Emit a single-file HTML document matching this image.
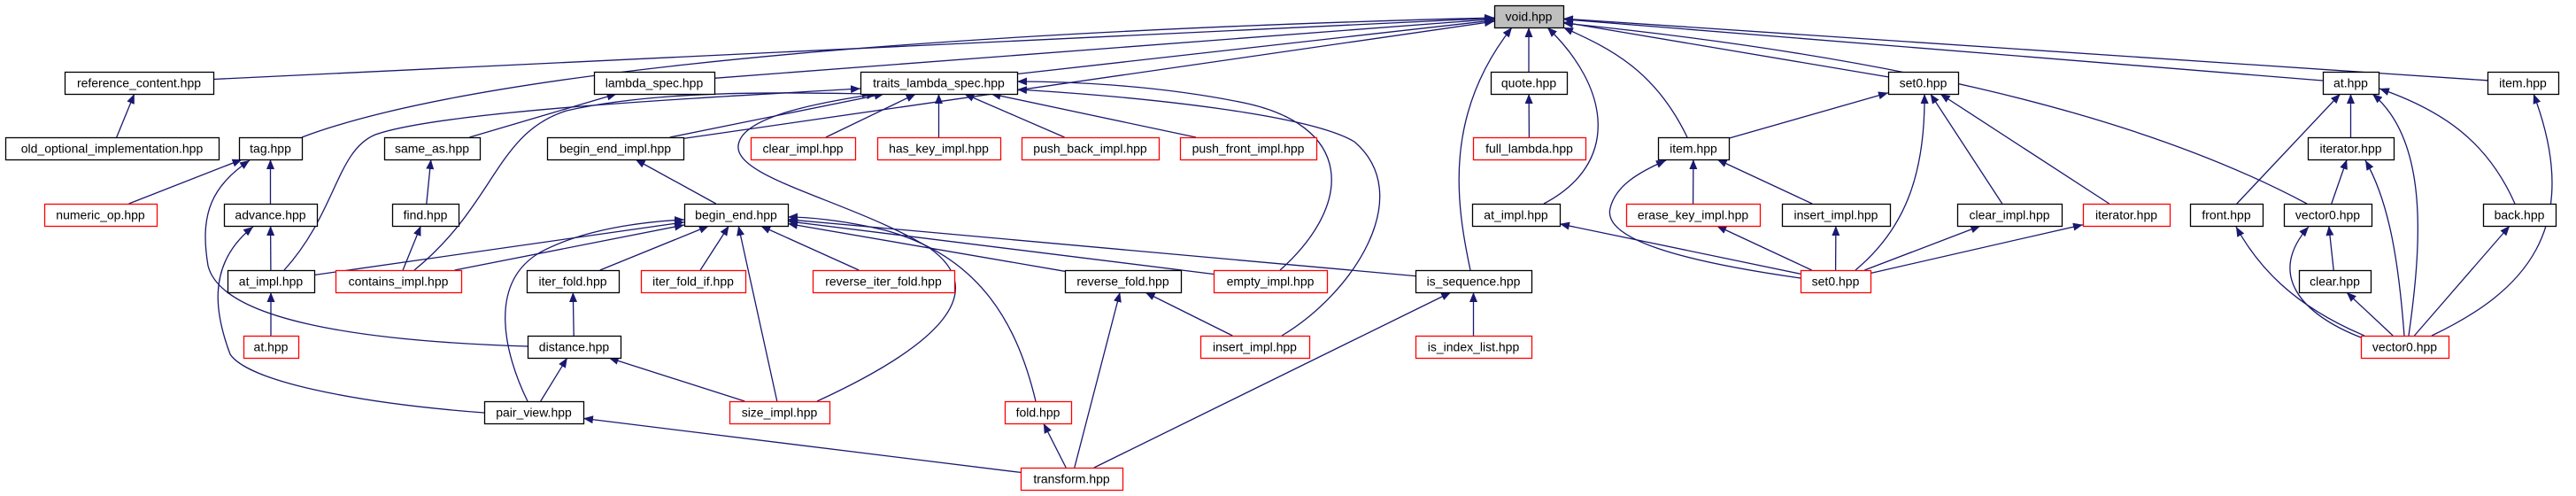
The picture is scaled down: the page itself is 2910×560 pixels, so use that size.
<!DOCTYPE html>
<html><head><meta charset="utf-8">
<style>
html,body{margin:0;padding:0;background:#fff;}
svg{display:block;}
text{font-family:"Liberation Sans",sans-serif;font-size:14px;fill:#000;}
</style></head>
<body>
<svg id="g" xmlns="http://www.w3.org/2000/svg" width="2910" height="560" viewBox="0 0 2910 560">
<defs>
<marker id="a" markerUnits="userSpaceOnUse" markerWidth="12" markerHeight="9" refX="11" refY="4.5" orient="auto">
<path d="M0,0 L11,4.5 L0,9 z" fill="#191970"/>
</marker>
</defs>
<g id="edges" fill="none" stroke="#191970" stroke-width="1.3"></g>
<g id="nodes"></g>
</svg>
<script>
var R=[6,81,155,230,305,379,453,528],H=25;
var N={
void:[1688,1766,0,'g','void.hpp'],
reference_content:[73,241,1,'b','reference_content.hpp'],
lambda_spec:[671,807,1,'b','lambda_spec.hpp'],
traits:[972,1149,1,'b','traits_lambda_spec.hpp'],
quote:[1684,1770,1,'b','quote.hpp'],
set0b:[2133,2212,1,'b','set0.hpp'],
at1:[2624,2687,1,'b','at.hpp'],
item1:[2810,2890,1,'b','item.hpp'],
old_opt:[6,247,2,'b','old_optional_implementation.hpp'],
tag:[270,341,2,'b','tag.hpp'],
same_as:[434,542,2,'b','same_as.hpp'],
bei:[618,772,2,'b','begin_end_impl.hpp'],
clear_impl_r:[848,966,2,'r','clear_impl.hpp'],
has_key:[991,1130,2,'r','has_key_impl.hpp'],
push_back:[1154,1309,2,'r','push_back_impl.hpp'],
push_front:[1333,1487,2,'r','push_front_impl.hpp'],
full_lambda:[1664,1791,2,'r','full_lambda.hpp'],
item2:[1873,1953,2,'b','item.hpp'],
iterator2:[2607,2704,2,'b','iterator.hpp'],
numeric_op:[50,177,3,'r','numeric_op.hpp'],
advance:[253,358,3,'b','advance.hpp'],
find:[443,518,3,'b','find.hpp'],
begin_end:[773,890,3,'b','begin_end.hpp'],
at_impl3:[1663,1762,3,'b','at_impl.hpp'],
erase_key:[1837,1988,3,'r','erase_key_impl.hpp'],
insert_impl3:[2013,2135,3,'b','insert_impl.hpp'],
clear_impl3:[2211,2329,3,'b','clear_impl.hpp'],
iterator_red:[2353,2451,3,'r','iterator.hpp'],
front:[2474,2556,3,'b','front.hpp'],
vector0:[2580,2679,3,'b','vector0.hpp'],
back:[2805,2887,3,'b','back.hpp'],
at_impl4:[257,355,4,'b','at_impl.hpp'],
contains:[379,521,4,'r','contains_impl.hpp'],
iter_fold:[595,699,4,'b','iter_fold.hpp'],
iter_fold_if:[724,842,4,'r','iter_fold_if.hpp'],
rev_iter_fold:[918,1078,4,'r','reverse_iter_fold.hpp'],
reverse_fold:[1203,1334,4,'b','reverse_fold.hpp'],
empty_impl:[1371,1499,4,'r','empty_impl.hpp'],
is_sequence:[1599,1730,4,'b','is_sequence.hpp'],
set0red:[2034,2113,4,'r','set0.hpp'],
clear:[2597,2678,4,'b','clear.hpp'],
at_red:[275,337,5,'r','at.hpp'],
distance:[596,701,5,'b','distance.hpp'],
insert_red:[1356,1479,5,'r','insert_impl.hpp'],
is_index_list:[1599,1730,5,'r','is_index_list.hpp'],
vector0red:[2667,2766,5,'r','vector0.hpp'],
pair_view:[547,659,6,'b','pair_view.hpp'],
size_impl:[824,937,6,'r','size_impl.hpp'],
fold:[1135,1210,6,'r','fold.hpp'],
transform:[1153,1268,7,'r','transform.hpp']
};
var S=[
['reference_content','void'],['lambda_spec','void'],['traits','void'],['bei','void'],['quote','void'],
['set0b','void'],['at1','void'],['item1','void'],
['old_opt','reference_content'],['same_as','lambda_spec'],
['bei','traits'],['clear_impl_r','traits'],['has_key','traits'],['push_back','traits'],['push_front','traits'],
['numeric_op','tag'],['advance','tag'],['at_impl4','advance'],['at_red','at_impl4'],['find','same_as'],['contains','find'],
['begin_end','bei'],['at_impl4','begin_end'],['contains','begin_end'],['iter_fold','begin_end'],['iter_fold_if','begin_end'],
['rev_iter_fold','begin_end'],['reverse_fold','begin_end'],['empty_impl','begin_end'],['is_sequence','begin_end'],['size_impl','begin_end'],
['distance','iter_fold'],['pair_view','distance'],['size_impl','distance'],
['transform','pair_view'],['transform','reverse_fold'],['transform','fold'],['transform','is_sequence'],['insert_red','reverse_fold'],
['full_lambda','quote'],['is_index_list','is_sequence'],['set0red','at_impl3'],
['item2','set0b'],['clear_impl3','set0b'],['iterator_red','set0b'],
['erase_key','item2'],['insert_impl3','item2'],
['set0red','erase_key'],['set0red','insert_impl3'],['set0red','clear_impl3'],['set0red','iterator_red'],
['front','at1'],['iterator2','at1'],['vector0','iterator2'],['clear','vector0'],['vector0red','clear'],['vector0red','back']
];
var C=[
'M341,155 C500,95 900,40 1688,20',
'M1661,305 C1645,230 1630,130 1708,31',
'M1744,230 C1830,185 1820,100 1748,31',
'M1906,155 C1870,80 1820,55 1766,31',
'M2606,230 C2400,120 2100,60 1766,26',
'M923,453 C1060,390 1120,330 1050,280 C960,225 820,200 835,160 C845,130 930,115 990,106',
'M1446,305 C1530,230 1530,140 1400,115 C1300,95 1200,92 1149,92',
'M1448,379 C1530,330 1600,220 1530,160 C1480,130 1300,110 1149,101',
'M321,305 C380,240 380,170 424,152 C500,125 800,110 972,100',
'M468,305 C560,230 560,150 640,125 C750,100 900,105 985,106',
'M596,391 C400,385 250,360 235,300 C225,240 240,210 282,181',
'M547,466 C400,455 280,430 260,400 C245,360 230,300 286,256',
'M596,453 C570,400 550,320 610,285 C660,258 730,250 773,248',
'M1170,453 C1150,370 1110,290 1000,260 C950,248 910,245 890,245',
'M2034,314 C1900,295 1810,270 1819,235 C1825,210 1850,195 1882,181',
'M2096,305 C2150,260 2175,200 2174,106',
'M2671,379 C2590,345 2550,300 2526,256',
'M2667,381 C2600,355 2560,310 2608,256',
'M2716,379 C2710,300 2700,230 2672,181',
'M2721,379 C2735,280 2745,160 2680,106',
'M2747,379 C2850,330 2920,260 2862,106',
'M2841,230 C2810,160 2760,125 2688,100'
];
function box(k){var n=N[k];return {x1:n[0],x2:n[1],y1:R[n[2]],y2:R[n[2]]+H,cx:(n[0]+n[1])/2,cy:R[n[2]]+H/2};}
function clip(b,dx,dy){
  var tx=dx?((b.x2-b.x1)/2)/Math.abs(dx):1e9, ty=dy?(H/2)/Math.abs(dy):1e9, t=Math.min(tx,ty);
  return [b.cx+dx*t,b.cy+dy*t];}
var E=document.getElementById('edges'),h='';
S.forEach(function(e){var c=box(e[0]),p=box(e[1]);var dx=p.cx-c.cx,dy=p.cy-c.cy;
 var a=clip(c,dx,dy),b=clip(p,-dx,-dy);
 h+='<path d="M'+a[0].toFixed(1)+','+a[1].toFixed(1)+' L'+b[0].toFixed(1)+','+b[1].toFixed(1)+'" marker-end="url(#a)"/>';});
C.forEach(function(d){h+='<path d="'+d+'" marker-end="url(#a)"/>';});
E.innerHTML=h;
var G=document.getElementById('nodes'),g='';
for(var k in N){var n=N[k],y=R[n[2]],w=n[1]-n[0];
 var st=n[3]=='r'?'#ff0000':'#000000',fl=n[3]=='g'?'#bfbfbf':'#ffffff';
 g+='<rect x="'+(n[0]+0.5)+'" y="'+(y+0.5)+'" width="'+w+'" height="'+H+'" fill="'+fl+'" stroke="'+st+'" stroke-width="1.3"/>';
 g+='<text x="'+((n[0]+n[1])/2)+'" y="'+(y+17.5)+'" text-anchor="middle">'+n[4]+'</text>';}
G.innerHTML=g;
</script>
</body></html>
